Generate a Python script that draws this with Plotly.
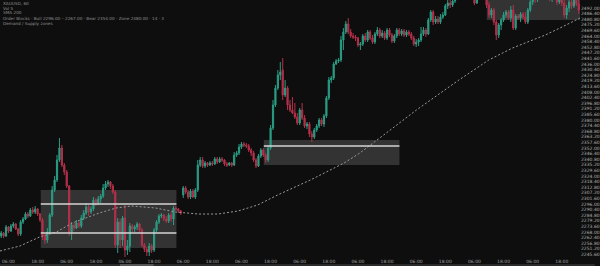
import plotly.graph_objects as go

# ---------------- data ----------------
opens = [2264,2267,2264,2273,2269,2274,2276,2271,2266,2278,2281,2286,2284,2290,2288,2291,2286,2280,2264,2260,
         2268,2285,2310,2320,2340,2352,2335,2328,2314,2268,2275,2272,2277,2274,2282,2287,2293,2288,2291,2300,
         2297,2301,2304,2312,2316,2318,2314,2308,2255,2278,2260,2282,2250,2254,2274,2271,2273,2276,2270,2255,
         2251,2248,2254,2250,2270,2278,2284,2285,2281,2279,2285,2281,2292,2291,2289,2305,2312,2308,2303,2309,
         2303,2310,2335,2340,2334,2337,2335,2337,2336,2341,2338,2341,2340,2336,2335,2337,2335,2345,2347,2353,
         2356,2355,2354,2350,2347,2340,2334,2344,2350,2345,2340,2352,2372,2395,2412,2425,2430,2405,2412,2395,
         2390,2387,2383,2377,2390,2382,2374,2376,2366,2363,2370,2374,2380,2376,2384,2402,2420,2422,2436,2439,
         2440,2460,2468,2476,2468,2464,2463,2462,2455,2456,2464,2460,2468,2462,2458,2466,2470,2464,2467,2462,
         2470,2465,2459,2464,2470,2466,2469,2465,2468,2466,2462,2456,2458,2460,2466,2470,2466,2480,2488,2478,
         2481,2478,2483,2485,2494,2497,2495,2499,2504,2508,2504,2510,2506,2503,2507,2502,2497,2502,2506,2510,
         2504,2495,2485,2490,2478,2465,2475,2480,2485,2488,2482,2490,2472,2484,2482,2486,2483,2478,2490,2498,
         2503,2500,2504,2508,2505,2510,2506,2502,2507,2503,2498,2504,2497,2485,2492,2498,2494,2502,2496]
closes = [2267,2264,2273,2269,2274,2276,2271,2266,2278,2281,2286,2284,2290,2288,2291,2286,2280,2264,2260,2268,
          2285,2310,2320,2340,2352,2335,2328,2314,2268,2275,2272,2277,2274,2282,2287,2293,2288,2291,2300,2297,
          2301,2304,2312,2316,2318,2314,2308,2255,2278,2260,2282,2250,2254,2274,2271,2273,2276,2270,2255,2251,
          2248,2254,2250,2270,2278,2284,2285,2281,2279,2285,2281,2292,2291,2289,2287,2312,2308,2303,2309,2303,
          2310,2335,2340,2334,2337,2335,2337,2336,2341,2338,2341,2340,2336,2335,2337,2335,2345,2347,2353,2356,
          2355,2354,2350,2347,2340,2334,2344,2350,2345,2340,2352,2372,2395,2412,2425,2428,2405,2412,2395,2390,
          2387,2383,2377,2390,2382,2374,2376,2366,2363,2370,2374,2380,2376,2384,2402,2420,2422,2436,2439,2440,
          2460,2468,2476,2468,2464,2463,2462,2455,2456,2464,2460,2468,2462,2458,2466,2470,2464,2467,2462,2470,
          2465,2459,2464,2470,2466,2469,2465,2468,2466,2462,2456,2458,2460,2466,2470,2466,2480,2488,2478,2481,
          2478,2483,2485,2494,2497,2495,2499,2504,2508,2504,2510,2506,2503,2507,2502,2497,2502,2506,2510,2504,
          2495,2485,2490,2478,2465,2475,2480,2485,2488,2482,2490,2472,2484,2482,2486,2483,2478,2490,2498,2503,
          2500,2504,2508,2505,2510,2506,2502,2507,2503,2498,2504,2497,2485,2492,2498,2494,2502,2496,2490]
highs = [2269,2268,2275,2274,2276,2278,2277,2272,2280,2283,2288,2288,2292,2293,2294,2292,2287,2282,2266,2272,
         2287,2314,2324,2345,2362,2355,2337,2330,2315,2278,2277,2280,2279,2285,2290,2297,2295,2294,2303,2302,
         2304,2306,2316,2319,2320,2319,2316,2310,2282,2281,2284,2295,2260,2277,2276,2275,2278,2277,2272,2257,
         2253,2257,2256,2272,2280,2286,2287,2286,2284,2287,2288,2294,2294,2292,2290,2314,2314,2310,2311,2311,
         2312,2340,2343,2343,2339,2338,2339,2339,2343,2343,2343,2343,2341,2338,2338,2338,2348,2349,2356,2358,
         2358,2357,2356,2352,2349,2342,2346,2352,2352,2347,2355,2375,2400,2415,2430,2438,2442,2420,2414,2400,
         2403,2397,2387,2392,2397,2385,2378,2378,2369,2372,2376,2382,2382,2386,2404,2423,2424,2438,2441,2442,
         2464,2472,2479,2482,2471,2467,2465,2463,2458,2466,2467,2470,2470,2465,2468,2473,2472,2470,2469,2472,
         2472,2467,2466,2472,2472,2471,2471,2470,2470,2468,2464,2461,2462,2473,2473,2472,2482,2490,2490,2484,
         2484,2486,2488,2496,2502,2500,2503,2508,2512,2512,2514,2514,2510,2510,2509,2505,2505,2510,2514,2514,
         2506,2498,2492,2492,2480,2477,2482,2488,2490,2490,2494,2495,2486,2486,2488,2488,2488,2492,2502,2506,
         2506,2508,2512,2512,2514,2514,2509,2510,2510,2506,2507,2506,2500,2495,2502,2502,2505,2504,2500]
lows = [2262,2262,2263,2267,2268,2272,2270,2264,2264,2276,2280,2282,2283,2286,2286,2284,2278,2260,2256,2257,
        2266,2283,2308,2318,2338,2333,2325,2312,2264,2260,2269,2271,2272,2272,2280,2285,2284,2286,2289,2294,
        2295,2297,2302,2310,2313,2311,2306,2252,2247,2252,2254,2243,2245,2248,2268,2268,2270,2268,2253,2248,
        2244,2244,2247,2248,2268,2276,2282,2279,2277,2277,2278,2275,2289,2287,2285,2302,2306,2301,2301,2302,
        2301,2308,2333,2332,2332,2333,2334,2334,2335,2336,2337,2338,2334,2333,2334,2333,2334,2343,2345,2351,
        2353,2352,2348,2344,2338,2332,2333,2342,2343,2337,2338,2350,2370,2393,2410,2420,2400,2403,2390,2388,
        2386,2381,2375,2375,2380,2372,2371,2363,2358,2361,2368,2372,2374,2373,2382,2400,2417,2420,2435,2437,
        2438,2450,2466,2466,2462,2461,2459,2453,2450,2454,2458,2458,2460,2456,2456,2464,2462,2462,2460,2460,
        2463,2457,2457,2462,2464,2464,2463,2463,2464,2460,2454,2453,2454,2458,2464,2463,2465,2478,2475,2476,
        2476,2476,2481,2484,2491,2492,2493,2497,2502,2501,2502,2504,2501,2501,2500,2495,2496,2500,2504,2502,
        2492,2482,2482,2475,2460,2462,2470,2478,2482,2480,2478,2470,2470,2480,2478,2481,2476,2476,2488,2495,
        2497,2498,2501,2502,2503,2503,2499,2498,2500,2495,2496,2494,2482,2481,2488,2491,2492,2494,2486]

# 200-period moving average, read at a few points (bar index, price)
ma_x = [-0.5, 7.7, 15.8, 22.8, 29.3, 40.4, 47.3, 53.8, 63.6, 71.8, 81.2, 89.4, 97.6, 105.7,
        113.9, 122.1, 127.4, 141.3, 147.8, 157.6, 171.1, 188.6, 200.9, 210.7, 217.2, 224.2, 231.1, 238.5]
ma_y = [2249, 2254, 2263, 2268, 2277, 2287, 2292, 2294, 2292, 2288, 2286, 2286, 2289, 2295,
        2305, 2314, 2320, 2337, 2347, 2365, 2390, 2420, 2440, 2452, 2458, 2465, 2473, 2482]

# zones: (start bar, end bar, low, high, [levels])
zones = [
    (16.3, 72.2, 2252, 2310, [2296, 2267]),
    (108.2, 164.1, 2335, 2360, [2354]),
    (200.1, 238.5, 2480, 2510, []),
]

x_tick_labels = ["06:00", "18:00", "06:00", "18:00", "06:00", "18:00", "06:00", "18:00", "06:00", "18:00",
                 "06:00", "18:00", "06:00", "18:00", "06:00", "18:00", "06:00", "18:00", "06:00", "18:00"]

header_lines = [
    "XAUUSD, 60",
    "Vol 5",
    "SMA 200",
    "Order Blocks · Bull 2296.00 – 2267.00 · Bear 2354.00 · Zone 2480.00 · 14 · 3",
    "Demand / Supply zones",
]

# ---------------- figure ----------------
W, H = 600, 266
ML, MR, MT, MB = 0, 15, 0, 9
PH = H - MT - MB

UP, DN = "#2a9d84", "#b5304a"
bars = list(range(len(opens)))

fig = go.Figure()
fig.add_trace(go.Candlestick(
    x=bars, open=opens, high=highs, low=lows, close=closes,
    increasing=dict(line=dict(color=UP, width=1), fillcolor=UP),
    decreasing=dict(line=dict(color=DN, width=1), fillcolor=DN),
    whiskerwidth=0, showlegend=False, hoverinfo="skip",
))
fig.add_trace(go.Scatter(
    x=ma_x, y=ma_y, mode="lines",
    line=dict(color="#9a9a9a", width=1, dash="2px,2px"),
    showlegend=False, hoverinfo="skip",
))

shapes = []
for x0, x1, lo, hi, levels in zones:
    shapes.append(dict(type="rect", xref="x", yref="y", x0=x0, x1=x1, y0=lo, y1=hi,
                       fillcolor="rgba(200,200,200,0.2)", line=dict(width=0), layer="below"))
    for lv in levels:
        shapes.append(dict(type="line", xref="x", yref="y", x0=x0, x1=x1, y0=lv, y1=lv,
                           line=dict(color="#d6d6d6", width=1.3), layer="above"))
# bottom strip + scrollbar
shapes.append(dict(type="rect", xref="paper", yref="paper", x0=0, x1=W / (W - MR),
                   y0=-(MB) / PH, y1=-(MB - 2) / PH, fillcolor="#2a2a2a", line=dict(width=0)))
shapes.append(dict(type="rect", xref="paper", yref="paper", x0=121 / (W - MR), x1=155 / (W - MR),
                   y0=-(MB) / PH, y1=-(MB - 2) / PH, fillcolor="#555555", line=dict(width=0)))

annotations = []
hy = [3.3, 8.3, 12.7, 18.3, 23.3]
for txt, py in zip(header_lines, hy):
    annotations.append(dict(text=txt, xref="paper", yref="paper", x=0.002, y=1 - py / PH,
                            xanchor="left", yanchor="middle", showarrow=False,
                            font=dict(size=4.2, color="#8e8e8e", family="DejaVu Sans")))

fig.update_layout(
    width=W, height=H,
    margin=dict(l=ML, r=MR, t=MT, b=MB, pad=0),
    paper_bgcolor="#0e0e0e", plot_bgcolor="#0e0e0e",
    shapes=shapes, annotations=annotations,
    xaxis=dict(range=[-0.5, 238.5], showgrid=False, zeroline=False, showline=False,
               rangeslider=dict(visible=False), tickmode="array",
               tickvals=list(range(3, 3 + 12 * len(x_tick_labels), 12)), ticktext=x_tick_labels,
               ticks="", tickfont=dict(size=4.5, color="#a0a0a0", family="DejaVu Sans"),
               fixedrange=True),
    yaxis=dict(range=[2243, 2500], side="right", showgrid=False, zeroline=False, showline=False,
               tickmode="linear", tick0=2240, dtick=5.6, tickformat=".2f",
               ticks="", tickfont=dict(size=4.5, color="#b0b0b0", family="DejaVu Sans"),
               fixedrange=True),
)

fig.write_html("out.html")
